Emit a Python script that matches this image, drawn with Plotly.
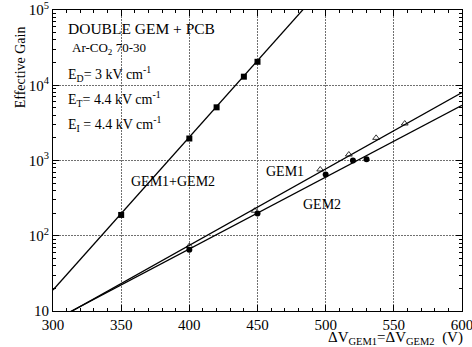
import plotly.graph_objects as go

# Data
gem12_v = [350, 400, 420, 440, 450]
gem12_gain = [189, 1960, 5090, 13000, 20500]

gem1_v = [400, 448, 496, 517, 537, 558]
gem1_gain = [73, 215, 760, 1200, 2000, 3100]

gem2_v = [400, 450, 500, 520, 530]
gem2_gain = [65, 198, 650, 1000, 1040]

# Fit lines (end points)
fit12_v = [300, 490]
fit12_gain = [19, 138000]
fit1_v = [300, 600]
fit1_gain = [7.2, 8000]
fit2_v = [300, 600]
fit2_gain = [7.4, 5400]

x_ticks = [300, 350, 400, 450, 500, 550, 600]
y_ticks = [10, 100, 1000, 10000, 100000]
y_ticktext = ["10", "10<sup>2</sup>", "10<sup>3</sup>", "10<sup>4</sup>", "10<sup>5</sup>"]
y_minor = [k * 10 ** d for d in range(1, 5) for k in range(2, 10)]

FONT = "Liberation Serif"
fig = go.Figure()

for xv, yv in [(fit12_v, fit12_gain), (fit1_v, fit1_gain), (fit2_v, fit2_gain)]:
    fig.add_trace(go.Scatter(x=xv, y=yv, mode="lines",
                             line=dict(color="black", width=1.3), showlegend=False))

fig.add_trace(go.Scatter(x=gem12_v, y=gem12_gain, mode="markers",
                         marker=dict(symbol="square", size=6, color="black"), showlegend=False))
fig.add_trace(go.Scatter(x=gem1_v, y=gem1_gain, mode="markers",
                         marker=dict(symbol="triangle-up-open", size=6, color="black",
                                     line=dict(width=0.8)), showlegend=False))
fig.add_trace(go.Scatter(x=gem2_v, y=gem2_gain, mode="markers",
                         marker=dict(symbol="circle", size=6, color="black"), showlegend=False))

axis_common = dict(showline=True, linecolor="black", linewidth=1, mirror="allticks",
                   ticks="inside", ticklen=6, tickcolor="black", tickwidth=1,
                   showgrid=True, gridcolor="#707070", griddash="2px,1px", gridwidth=1,
                   zeroline=False, automargin=False, ticklabeloverflow="allow",
                   tickfont=dict(family=FONT, size=15, color="black"))

fig.update_xaxes(range=[300, 600], tickvals=x_ticks,
                 minor=dict(ticks="inside", ticklen=3, tick0=300, dtick=10, tickcolor="black",
                            tickwidth=1, showgrid=False),
                 **axis_common)
fig.update_yaxes(type="log", range=[0.99999, 5.00001], tickvals=y_ticks, ticktext=y_ticktext,
                 minor=dict(ticks="inside", ticklen=3, tickvals=y_minor, tickcolor="black",
                            tickwidth=1, showgrid=False),
                 **axis_common)

ann = []
def txt(x, y, s, size=15, xanchor="left", **kw):
    ann.append(dict(x=x, y=y, xref="paper", yref="paper", text=s, showarrow=False,
                    xanchor=xanchor, yanchor="middle",
                    font=dict(family=FONT, size=size, color="black"), **kw))

# paper coordinates: plot area x 53..462, y 10..311 (height 301)
def px(x):
    return (x - 53) / 409.0
def py(y):
    return (311 - y) / 301.0

txt(px(66), py(29), "DOUBLE GEM + PCB", size=15.5)
txt(px(70), py(49), "Ar-CO<sub>2</sub> 70-30", size=13)
txt(px(66), py(74), "E<sub>D</sub>= 3 kV cm<sup>-1</sup>", size=14)
txt(px(66), py(99), "E<sub>T</sub>= 4.4 kV cm<sup>-1</sup>", size=14)
txt(px(66), py(124), "E<sub>I</sub> = 4.4 kV cm<sup>-1</sup>", size=14)
txt(px(129), py(181), "GEM1+GEM2", size=14)
txt(px(264), py(171), "GEM1", size=14)
txt(px(301), py(204), "GEM2", size=14)
txt(px(326), py(338), "ΔV<sub>GEM1</sub>=ΔV<sub>GEM2</sub>  (V)", size=15)
ann.append(dict(x=-0.08, y=py(67), xref="paper", yref="paper", text="Effective Gain",
                showarrow=False, textangle=-90, xanchor="center", yanchor="middle",
                font=dict(family=FONT, size=14, color="black")))
fig.update_layout(annotations=ann)

fig.update_layout(width=472, height=347, margin=dict(l=53, r=10, t=10, b=36),
                  paper_bgcolor="white", plot_bgcolor="white", showlegend=False)

fig.write_html("out.html", config={"displayModeBar": False},
               post_script="document.body.style.margin='0';document.body.style.overflow='hidden';")
